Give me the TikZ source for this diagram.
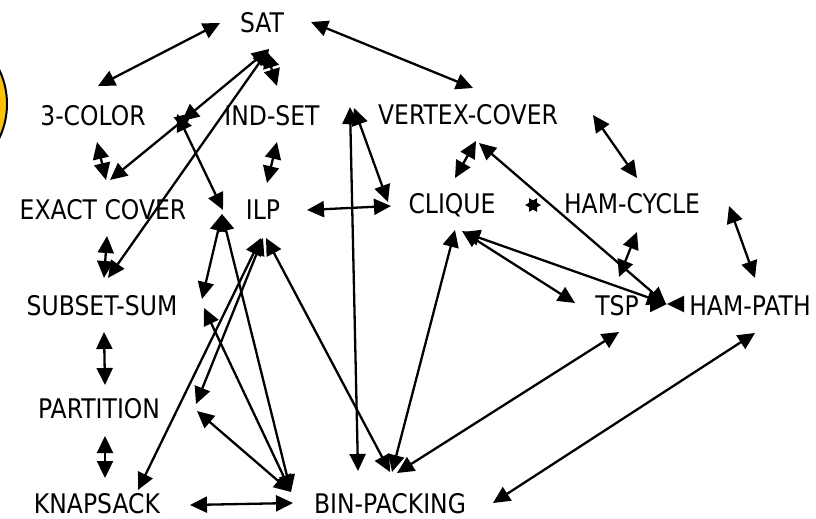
\documentclass[tikz,border=0pt]{standalone}
\usepackage{fontspec}
\newfontfamily\lblfont{DejaVu Sans}[FakeStretch=0.87]
\usetikzlibrary{arrows.meta}
\definecolor{gold}{RGB}{255,192,0}
\tikzset{
  tipA/.tip={Triangle[length=17pt,width=16pt]},
  tipS/.tip={Triangle[length=12pt,width=13pt]},
  rel/.style={tipA-tipA, line width=2.3pt},
  half/.style={-tipA, line width=2.3pt},
  halfs/.style={-tipS, line width=2.3pt},
  lbl/.style={font=\lblfont\fontsize{27}{32}\selectfont, inner sep=0pt, anchor=base}
}
\begin{document}
\begin{tikzpicture}[x=1pt,y=-1pt]
\useasboundingbox (0,0) rectangle (816,519);
\begin{scope}
  \clip (0,0) rectangle (816,519);
  \filldraw[fill=gold, draw=black, line width=2pt] (-72,104) circle[radius=79pt];
\end{scope}
% labels
\node[lbl] (sat)   at (262,33)  {SAT};
\node[lbl] (col)   at (93,125)  {3-COLOR};
\node[lbl] (ind)   at (272,125) {IND-SET};
\node[lbl] (vc)    at (468,124) {VERTEX-COVER};
\node[lbl] (exc)   at (103,219) {EXACT COVER};
\node[lbl] (ilp)   at (263,219) {ILP};
\node[lbl] (clq)   at (452,213) {CLIQUE};
\node[lbl] (hc)    at (632,213) {HAM-CYCLE};
\node[lbl] (ss)    at (102,315) {SUBSET-SUM};
\node[lbl] (tsp)   at (617,315) {TSP};
\node[lbl] (hp)    at (750,315) {HAM-PATH};
\node[lbl] (part)  at (99,418)  {PARTITION};
\node[lbl] (knap)  at (97,513)  {KNAPSACK};
\node[lbl] (bin)   at (390,513) {BIN-PACKING};
% connector end points
\coordinate (satL) at (220,23);
\coordinate (colT) at (98,86);
\coordinate (satR) at (311,22);
\coordinate (vcT) at (473,88);
\coordinate (satB) at (266,51);
\coordinate (indT) at (277,86);
\coordinate (c0) at (269,49);
\coordinate (c1a) at (182,121);
\coordinate (c1b) at (192,113);
\coordinate (c1c) at (177,114);
\coordinate (excT2) at (110,180);
\coordinate (colB) at (97,142);
\coordinate (excT) at (106,180);
\coordinate (c2top) at (223,210);
\coordinate (c2) at (222,214);
\coordinate (ssT2) at (108,278);
\coordinate (excB) at (107,236);
\coordinate (ssT) at (104,278);
\coordinate (indB) at (277,142);
\coordinate (ilpT) at (267,183);
\coordinate (ssR1) at (202,299);
\coordinate (ssR2) at (204,308);
\coordinate (c4) at (291,492);
\coordinate (ilpR) at (307,210);
\coordinate (clqL) at (391,206);
\coordinate (c3a) at (350,107);
\coordinate (c3b) at (354,108);
\coordinate (binT) at (358,471);
\coordinate (clqL2) at (388,202);
\coordinate (vcB1) at (476,141);
\coordinate (clqT) at (455,178);
\coordinate (vcB2) at (479,143);
\coordinate (c5) at (666,304);
\coordinate (c5a) at (664,303);
\coordinate (vcR) at (593,115);
\coordinate (hcT) at (637,178);
% star (clique / ham-cycle)
\coordinate (starRa) at (529.3,205);
\coordinate (starRb) at (541,205);
\coordinate (starLa) at (536.7,205);
\coordinate (starLb) at (525,205);
\coordinate (clqB) at (462,231);
\coordinate (clqB2) at (463,232);
\coordinate (clqB3) at (455,230);
\coordinate (tspL) at (575,303);
\coordinate (hcB) at (637,232);
\coordinate (hpT1) at (619,277);
\coordinate (hcR) at (729,206);
\coordinate (hpT2) at (755,278);
% bow tie (tsp / ham-path)
\coordinate (bowC) at (667,304);
\coordinate (bowL) at (650,304);
\coordinate (bowR) at (684,304);
\coordinate (binR) at (493,503);
\coordinate (hpB) at (755,333);
\coordinate (tspB) at (619,332);
\coordinate (c6a) at (397,473);
\coordinate (c6b) at (392,472);
\coordinate (c6c) at (390,472);
\coordinate (c7a) at (266,238);
\coordinate (c7b) at (263,238);
\coordinate (c7c) at (261,238);
\coordinate (partR1) at (196,404);
\coordinate (partR2) at (197,411);
\coordinate (knapT) at (138,490);
\coordinate (knapR) at (190,505);
\coordinate (c4b) at (293,503);
\coordinate (ssB) at (104,332);
\coordinate (partT) at (105,385);
\coordinate (partB) at (105,436);
\coordinate (knapT2) at (105,478);
% connectors
\draw[rel] (satL) -- (colT);
\draw[rel] (satR) -- (vcT);
\draw[rel] (satB) -- (indT);
\draw[rel] (c0) -- (c1a);
\draw[rel] (c0) -- (ssT2);
\draw[rel] (c1b) -- (excT2);
\draw[rel] (colB) -- (excT);
\draw[rel] (c1c) -- (c2top);
\draw[rel] (indB) -- (ilpT);
\draw[rel] (excB) -- (ssT);
\draw[rel] (c2) -- (ssR1);
\draw[rel] (c2) -- (c4);
\draw[rel] (ilpR) -- (clqL);
\draw[rel] (c3a) -- (binT);
\draw[rel] (c3b) -- (clqL2);
\draw[rel] (clqT) -- (vcB1);
\draw[rel] (vcB2) -- (c5);
\draw[rel] (vcR) -- (hcT);
\draw[halfs] (starLa) -- (starLb);
\draw[halfs] (starRa) -- (starRb);
\draw[rel] (clqB) -- (tspL);
\draw[rel] (clqB2) -- (c5a);
\draw[rel] (hcB) -- (hpT1);
\draw[rel] (hcR) -- (hpT2);
\draw[half] (bowL) -- (bowC);
\draw[half] (bowR) -- (bowC);
\draw[rel] (binR) -- (hpB);
\draw[rel] (tspB) -- (c6a);
\draw[rel] (clqB3) -- (c6b);
\draw[rel] (c7a) -- (c6c);
\draw[rel] (c7b) -- (partR1);
\draw[rel] (c7c) -- (knapT);
\draw[rel] (knapR) -- (c4b);
\draw[rel] (c4) -- (ssR2);
\draw[rel] (c4) -- (partR2);
\draw[rel] (ssB) -- (partT);
\draw[rel] (partB) -- (knapT2);
\end{tikzpicture}
\end{document}
